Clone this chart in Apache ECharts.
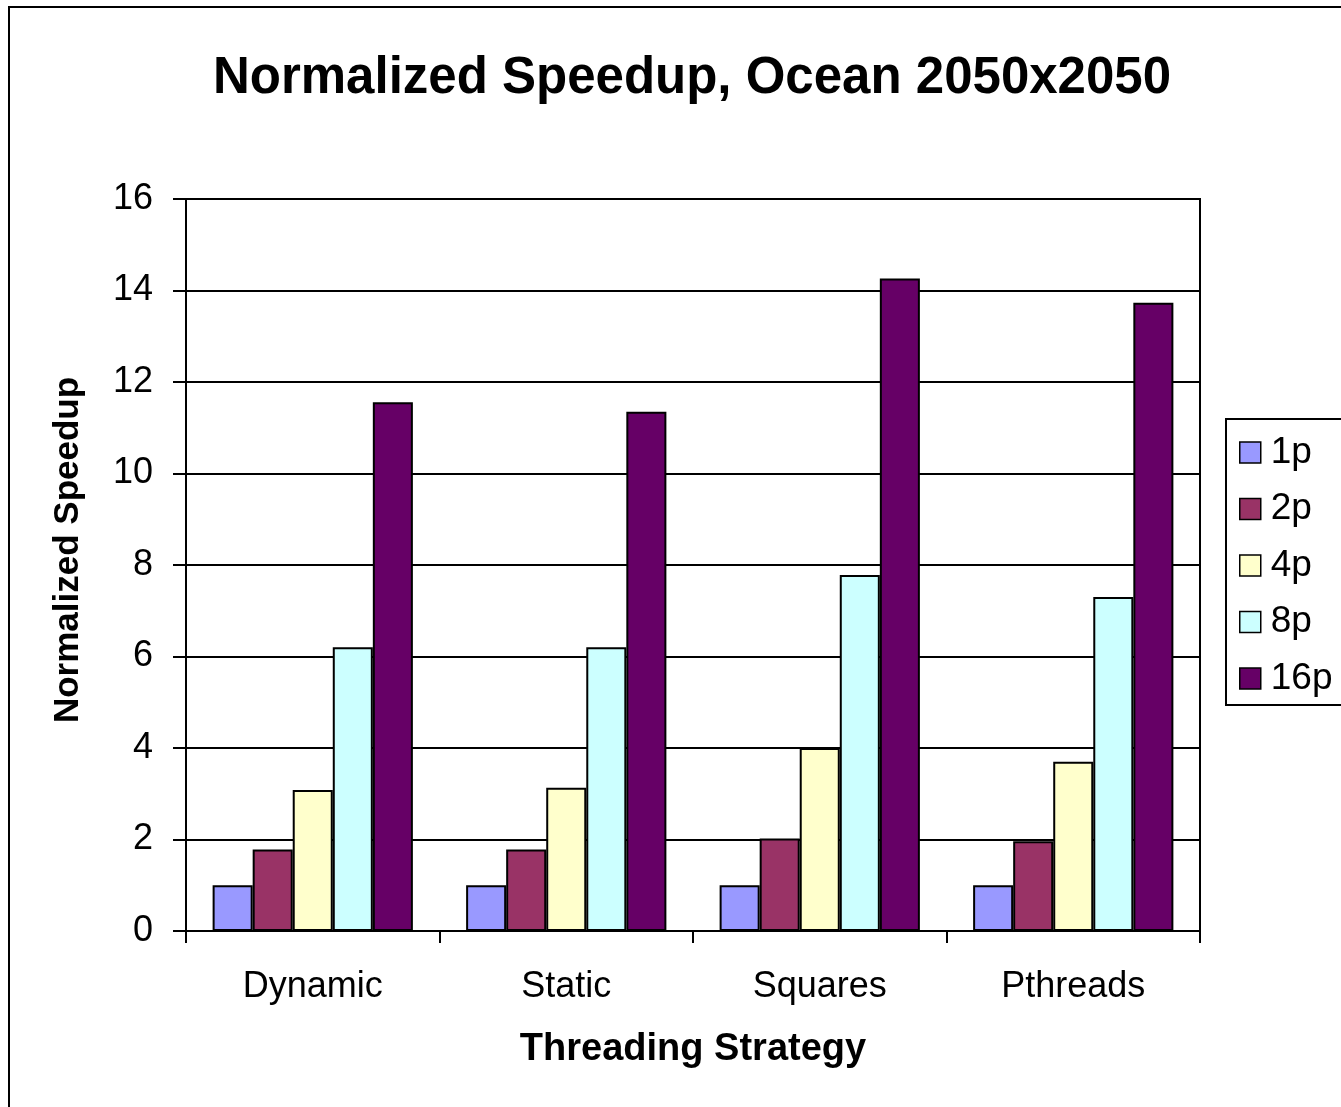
<!DOCTYPE html>
<html>
<head>
<meta charset="utf-8">
<script src="https://cdn.jsdelivr.net/npm/echarts@6/dist/echarts.min.js"></script>
<style>
html,body{margin:0;padding:0;background:#fff;}
#chart{width:1341px;height:1107px;}
</style>
</head>
<body>
<div id="chart"></div>
<script>
const categories = ['Dynamic', 'Static', 'Squares', 'Pthreads'];
const seriesNames = ['1p', '2p', '4p', '8p', '16p'];
const p1 = [1.0, 1.0, 1.0, 1.0];
const p2 = [1.78, 1.78, 2.02, 1.96];
const p4 = [3.08, 3.13, 4.0, 3.70];
const p8 = [6.2, 6.2, 7.78, 7.30];
const p16 = [11.56, 11.35, 14.26, 13.73];
const yTicks = [0, 2, 4, 6, 8, 10, 12, 14, 16];

const seriesData = [p1, p2, p4, p8, p16];
const colors = ['#9999FF', '#993366', '#FFFFCC', '#CCFFFF', '#660066'];
const FONT = '"Liberation Sans", Arial, sans-serif';

const chart = echarts.init(document.getElementById('chart'), null, {renderer: 'canvas'});
chart.setOption({
  animation: false,
  backgroundColor: '#fff',
  color: colors,
  title: {
    text: 'Normalized Speedup, Ocean 2050x2050',
    left: 687, top: 48, textAlign: 'center',
    textStyle: {fontFamily: FONT, fontSize: 51, fontWeight: 'bold', color: '#000'}
  },
  graphic: [{
    type: 'rect', silent: true,
    shape: {x: 9, y: 7, width: 1400, height: 1200},
    style: {fill: 'none', stroke: '#000', lineWidth: 2}
  }],
  legend: {
    orient: 'vertical',
    left: 1226, top: 419,
    padding: [15, 14, 8, 13],
    borderColor: '#000', borderWidth: 2,
    itemWidth: 21, itemHeight: 21, itemGap: 19.5,
    icon: 'rect',
    itemStyle: {borderColor: '#000', borderWidth: 1.5},
    textStyle: {fontFamily: FONT, fontSize: 37, color: '#000', lineHeight: 37, padding: [0, 0, 0, 5]},
    data: seriesNames
  },
  grid: {
    left: 186, top: 199, width: 1014, height: 732,
    show: true, borderColor: '#000', borderWidth: 2, containLabel: false
  },
  xAxis: {
    type: 'category',
    data: categories,
    name: 'Threading Strategy',
    nameLocation: 'middle', nameGap: 100,
    nameTextStyle: {fontFamily: FONT, fontSize: 38, fontWeight: 'bold', color: '#000'},
    axisLine: {lineStyle: {color: '#000', width: 2}},
    axisTick: {show: true, length: 12, lineStyle: {color: '#000', width: 2}},
    axisLabel: {fontFamily: FONT, fontSize: 36, color: '#000', margin: 38}
  },
  yAxis: {
    type: 'value', min: 0, max: 16, interval: 2,
    name: 'Normalized Speedup',
    nameLocation: 'middle', nameGap: 100,
    nameTextStyle: {fontFamily: FONT, fontSize: 35, fontWeight: 'bold', color: '#000', padding: [0, 0, 0, 30]},
    axisLine: {show: true, lineStyle: {color: '#000', width: 2}},
    axisTick: {show: true, length: 13, lineStyle: {color: '#000', width: 2}},
    axisLabel: {fontFamily: FONT, fontSize: 36, color: '#000', margin: 33,
      formatter: v => yTicks.includes(v) ? String(v) : ''},
    splitLine: {show: true, lineStyle: {color: '#000', width: 2}}
  },
  series: seriesData.map((d, i) => ({
    name: seriesNames[i],
    type: 'bar',
    data: d,
    barGap: '0%',
    barCategoryGap: '21%',
    itemStyle: {color: colors[i], borderColor: '#000', borderWidth: 2}
  }))
});
</script>
</body>
</html>
